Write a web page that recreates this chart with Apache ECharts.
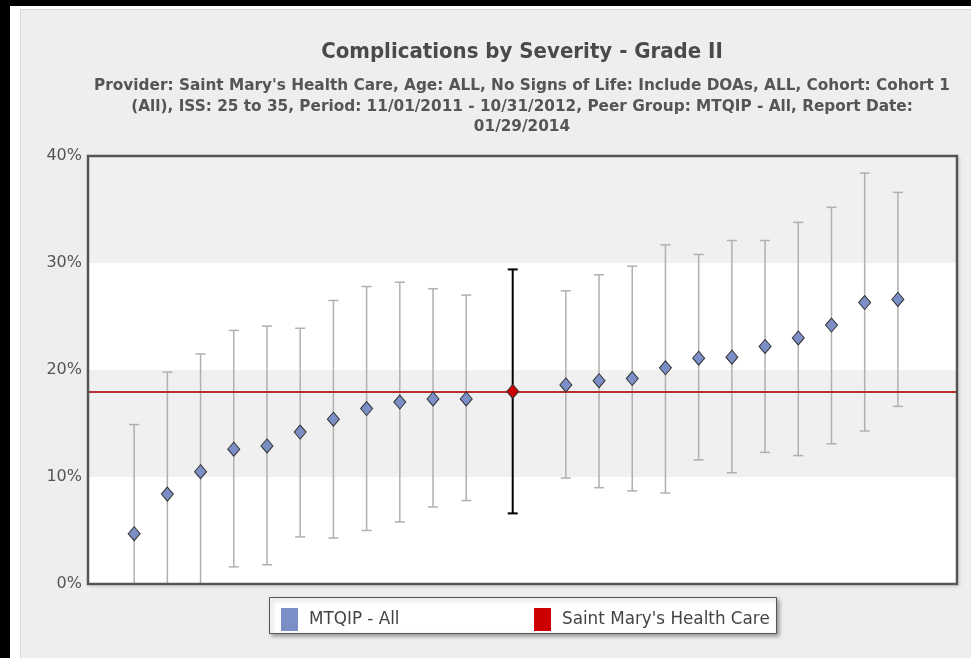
<!DOCTYPE html>
<html>
<head>
<meta charset="utf-8">
<script src="https://cdn.jsdelivr.net/npm/echarts@6/dist/echarts.min.js"></script>
<style>
  html, body { margin: 0; padding: 0; width: 971px; height: 658px; overflow: hidden; background: #000; }
  #frame { position: absolute; left: 10px; top: 6px; right: 0; bottom: 0; background: #fff; }
  #panel { position: absolute; left: 20px; top: 9px; right: 0; bottom: 0; background: #eeeeee; border-left: 1px solid #dadada; border-top: 1px solid #dadada; }
  #chart { position: absolute; left: 0; top: 0; width: 971px; height: 658px; }
</style>
</head>
<body>
<div id="frame"></div>
<div id="panel"></div>
<div id="chart"></div>
<script>
// chart text
const titleText = 'Complications by Severity - Grade II'
const subtitleText = "Provider: Saint Mary's Health Care, Age: ALL, No Signs of Life: Include DOAs, ALL, Cohort: Cohort 1\n" +
  '(All), ISS: 25 to 35, Period: 11/01/2011 - 10/31/2012, Peer Group: MTQIP - All, Report Date:\n' +
  '01/29/2014'
const peerName = 'MTQIP - All'
const hospitalName = "Saint Mary's Health Care"

// peer group hospitals (rank position, rate %, confidence interval %)
const peerRank = [1, 2, 3, 4, 5, 6, 7, 8, 9, 10, 11, 14, 15, 16, 17, 18, 19, 20, 21, 22, 23, 24]
const peerRate = [4.7, 8.4, 10.5, 12.6, 12.9, 14.2, 15.4, 16.4, 17.0, 17.3, 17.3, 18.6, 19.0, 19.2, 20.2, 21.1, 21.2, 22.2, 23.0, 24.2, 26.3, 26.6]
const peerLower = [0, 0, 0, 1.6, 1.8, 4.4, 4.3, 5.0, 5.8, 7.2, 7.8, 9.9, 9.0, 8.7, 8.5, 11.6, 10.4, 12.3, 12.0, 13.1, 14.3, 16.6]
const peerUpper = [14.9, 19.8, 21.5, 23.7, 24.1, 23.9, 26.5, 27.8, 28.2, 27.6, 27.0, 27.4, 28.9, 29.7, 31.7, 30.8, 32.1, 32.1, 33.8, 35.2, 38.4, 36.6]

// selected hospital
const hospitalRank = [12.4]
const hospitalRate = [18.0]
const hospitalLower = [6.6]
const hospitalUpper = [29.4]

// y axis
const yMin = 0
const yMax = 40
const yStep = 10

const baseFont = 'DejaVu Sans'
const headFont = "'DejaVu Sans Condensed', 'DejaVu Sans', sans-serif"

// plot frame
const gridBox = { left: 88, right: 14, top: 156, bottom: 74 }

/**
 * 误差线：竖线加上下两个短横
 */
const errorBar = (color, width) => (params, api) => {
  const x = api.value(0)
  const top = api.coord([x, api.value(2)])
  const bottom = api.coord([x, api.value(1)])
  const half = 5
  const style = { stroke: color, lineWidth: width }
  return {
    type: 'group',
    children: [
      { type: 'line', shape: { x1: top[0], y1: top[1], x2: bottom[0], y2: bottom[1] }, style },
      { type: 'line', shape: { x1: top[0] - half, y1: top[1], x2: top[0] + half, y2: top[1] }, style },
      { type: 'line', shape: { x1: bottom[0] - half, y1: bottom[1], x2: bottom[0] + half, y2: bottom[1] }, style },
    ],
  }
}

const peerBars = peerRank.map((r, i) => [r, peerLower[i], peerUpper[i]])
const peerPoints = peerRank.map((r, i) => [r, peerRate[i]])
const hospitalBars = hospitalRank.map((r, i) => [r, hospitalLower[i], hospitalUpper[i]])
const hospitalPoints = hospitalRank.map((r, i) => [r, hospitalRate[i]])

const legendBase = {
  selectedMode: false,
  top: 603,
  itemWidth: 17,
  itemHeight: 23,
  icon: 'rect',
  z: 10,
  itemStyle: { borderWidth: 0 },
  textStyle: { fontFamily: baseFont, fontSize: 16.8, color: '#444', padding: [0, 0, 0, 6] },
}

const chart = echarts.init(document.getElementById('chart'), null, { renderer: 'canvas' })
chart.setOption({
  animation: false,
  backgroundColor: 'transparent',
  graphic: [
    {
      type: 'text', x: 522, y: 52,
      style: { text: titleText, fill: '#4a4a4a', font: 'bold 22px ' + headFont, textAlign: 'center', textVerticalAlign: 'middle' },
    },
    {
      type: 'text', x: 522, y: 107,
      style: { text: subtitleText, fill: '#555', font: 'bold 15.3px ' + baseFont, lineHeight: 20.5, textAlign: 'center', textVerticalAlign: 'middle' },
    },
    {
      type: 'rect', z: 1,
      shape: { x: 269.5, y: 597.5, width: 507, height: 36 },
      style: { fill: '#fff', stroke: '#555', lineWidth: 1, shadowBlur: 4, shadowOffsetX: 2, shadowOffsetY: 2, shadowColor: 'rgba(0,0,0,0.35)' },
    },
    {
      type: 'rect', z: 50, silent: true,
      shape: { x: gridBox.left, y: gridBox.top, width: 971 - gridBox.left - gridBox.right, height: 658 - gridBox.top - gridBox.bottom },
      style: { fill: 'none', stroke: '#555', lineWidth: 2.5 },
    },
  ],
  legend: [
    Object.assign({}, legendBase, { left: 276, data: [peerName] }),
    Object.assign({}, legendBase, { left: 529, data: [hospitalName] }),
  ],
  grid: Object.assign({}, gridBox, {
    show: true,
    borderColor: '#555',
    borderWidth: 1,
    backgroundColor: 'transparent',
    shadowColor: 'rgba(0,0,0,0.25)', shadowBlur: 3, shadowOffsetX: 2, shadowOffsetY: 2,
  }),
  xAxis: {
    type: 'value',
    min: -0.39,
    max: 25.78,
    show: false,
  },
  yAxis: {
    type: 'value',
    min: yMin,
    max: yMax,
    interval: yStep,
    axisLine: { show: false },
    axisTick: { show: false },
    splitLine: { show: false },
    splitArea: { show: true, areaStyle: { color: ['#ffffff', '#f0f0f0'] } },
    axisLabel: { formatter: '{value}%', fontFamily: baseFont, fontSize: 16, color: '#555', margin: 6 },
  },
  series: [
    {
      type: 'custom',
      z: 2,
      silent: true,
      renderItem: errorBar('#b0b0b0', 1.5),
      data: peerBars,
    },
    {
      type: 'custom',
      z: 3,
      silent: true,
      renderItem: errorBar('#000', 2),
      data: hospitalBars,
      markLine: {
        silent: true,
        symbol: 'none',
        label: { show: false },
        lineStyle: { color: '#b83030', width: 2, type: 'solid' },
        data: [{ yAxis: hospitalRate[0] }],
      },
    },
    {
      name: peerName,
      type: 'scatter',
      z: 5,
      symbol: 'diamond',
      symbolSize: [12, 14],
      itemStyle: { color: '#7b8fc6', borderColor: '#333', borderWidth: 1, opacity: 1 },
      data: peerPoints,
    },
    {
      name: hospitalName,
      type: 'scatter',
      z: 6,
      symbol: 'diamond',
      symbolSize: [12, 14],
      itemStyle: { color: '#cc0000', borderColor: '#333', borderWidth: 1, opacity: 1 },
      data: hospitalPoints,
    },
  ],
})
</script>
</body>
</html>
